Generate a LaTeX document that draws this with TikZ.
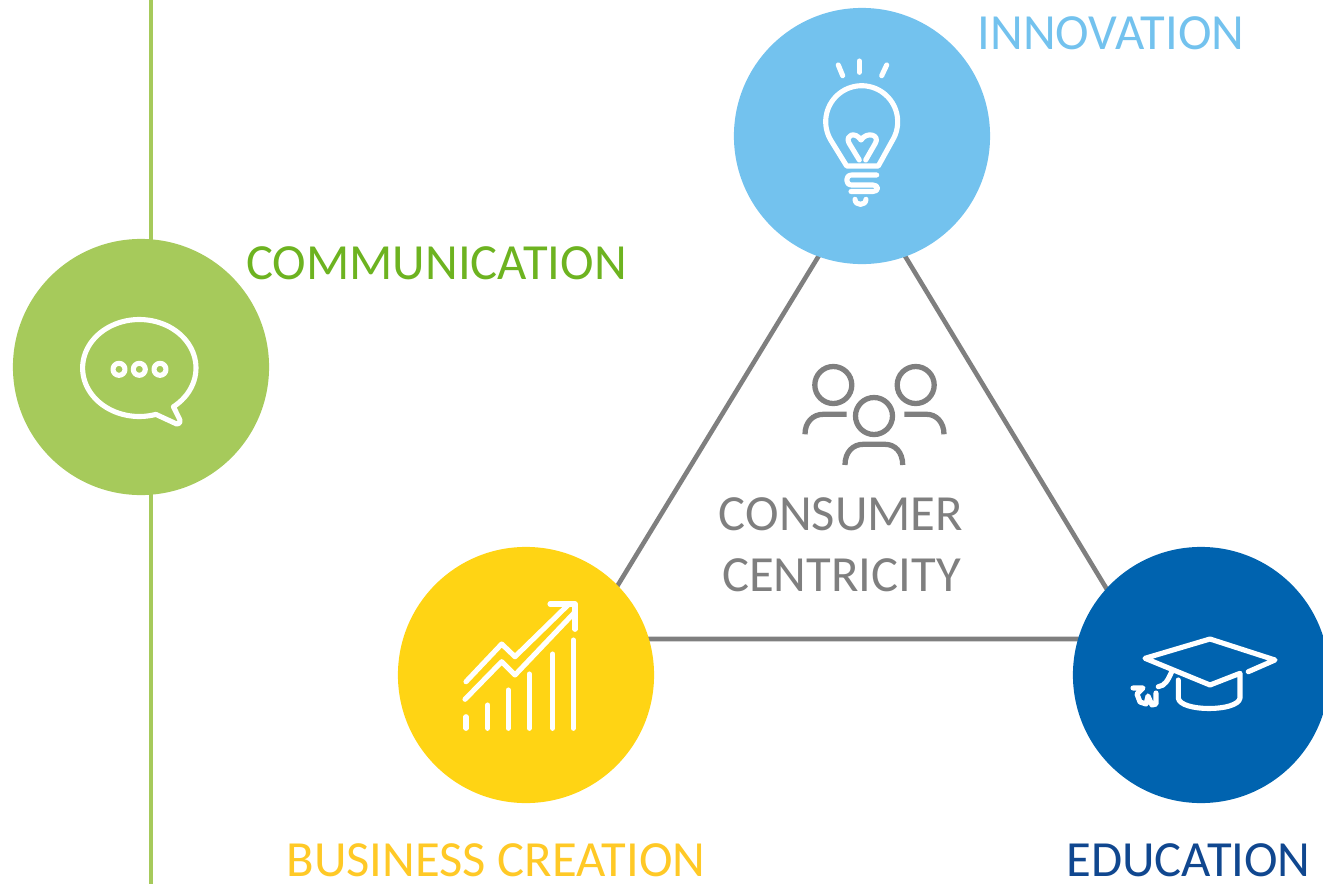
\documentclass[tikz,border=0pt]{standalone}
\usepackage{fontspec}
\setmainfont{Carlito}
\definecolor{greenhub}{HTML}{A6CA5B}
\definecolor{bluehub}{HTML}{73C2EE}
\definecolor{yellowhub}{HTML}{FFD414}
\definecolor{navyhub}{HTML}{0063AF}
\definecolor{greentext}{HTML}{6DB320}
\definecolor{yellowtext}{HTML}{FFC926}
\definecolor{navytext}{HTML}{10478F}
\definecolor{greyline}{HTML}{7F7F7F}
\tikzset{
  hub/.style={circle,minimum size=2.56cm,inner sep=0pt,fill=#1},
  caption/.style={inner sep=0pt,font=\fontsize{14.4pt}{16pt}\selectfont,text=#1},
  icon/.style={draw=white,line width=1.45pt,line cap=round,line join=round},
  person/.style={draw=greyline,line width=1.5pt,line join=round}
}
\begin{document}
\begin{tikzpicture}[x=0.01cm,y=-0.01cm]
  \useasboundingbox (0,0) rectangle (1323,884);
  \draw[greenhub,line width=1.2pt] (151,0)--(151,884);
  %triangle
  \coordinate (apex) at (862,185);
  \coordinate (left) at (585,639);
  \coordinate (right) at (1137,639);
  \draw[greyline,line width=1.3pt] (apex)--(left)--(right)--cycle;
  %circles
  \node[hub=bluehub] (innovation) at (862,136) {};
  \node[hub=greenhub] (communication) at (141,367) {};
  \node[hub=yellowhub] (business) at (526,675) {};
  \node[hub=navyhub] (education) at (1201,675) {};
  %labels
  \node[caption=bluehub] (innovationtext) at (1111,33) {INNOVATION};
  \node[caption=greentext] (communicationtext) at (436.5,263) {COMMUNICATION};
  \node[caption=yellowtext] (businesstext) at (496,860) {BUSINESS CREATION};
  \node[caption=navytext] (educationtext) at (1188.5,860) {EDUCATION};
  \node[caption=greyline] (consumertext) at (841,514) {CONSUMER};
  \node[caption=greyline] (centricitytext) at (841.5,575) {CENTRICITY};
  %bulb
  \draw[icon] (838.3,65)--(842.7,75.7);
  \draw[icon] (859.3,61)--(859.3,72.3);
  \draw[icon] (886.7,65)--(881.7,75.7);
  \draw[icon] (846.7,166)
    -- plot[domain=148.4:391.6,samples=50,smooth] ({861.7+36*cos(\x)},{121.7+36*sin(\x)})
    -- (878.3,166) -- cycle;
  \draw[icon] (859.3,160) -- (849,143) .. controls (845,135) and (855,131) .. (861,140)
    .. controls (867,131) and (880,135) .. (875.5,143) -- (865.7,160);
  \draw[icon] (876.7,175) -- (851.7,175) .. controls (845,175) and (845,185) .. (851.7,185)
    -- (873,185) .. controls (879,185) and (879,191.5) .. (873,191.5) -- (851,191.5);
  \draw[icon] (855,199.3) .. controls (855,206) and (866,206) .. (866,199.3);
  %speech bubble
  \draw[icon] plot[domain=53:-287,samples=90,smooth] ({139.3+56.7*cos(\x)},{368+48.5*sin(\x)})
    -- (176.7,424) .. controls (180,424) and (181,421) .. (179,418) -- cycle;
  \foreach \px in {119,139.3,160}
    \draw[icon] (\px,369.3) circle (6);
  %chart
  \foreach \px/\ptop in {466/716.7,487.7/705,508.3/690,529.3/674,552.7/654,573.3/640}
    \draw[icon] (\px,728.3)--(\px,\ptop);
  \draw[icon] (466,681.7)--(501.7,644)--(515,656.7)--(568,605);
  \draw[icon] (465,699.3)--(501.7,661.7)--(515,675)--(575,612);
  \draw[icon] (550,604)--(575,604)--(575,629.3);
  %cap
  \draw[icon] (1248.3,671.7)--(1275,660)--(1210,639)--(1145,658.3)--(1210,685)--(1240,673.3)
    --(1240,698) .. controls (1238,712) and (1180,712) .. (1178.3,698) -- (1178.3,680);
  \draw[icon] (1171.7,671.7) .. controls (1168,680) and (1165,686) .. (1158.3,686.7);
  \draw[icon] (1133,688)--(1143,688)--(1137,694)--(1140,702)--(1146,704)--(1148,696)
    --(1152,705)--(1156,704)--(1156,693);
  %people
  \draw[person] (833.3,385) circle (18.5);
  \draw[person] (915.7,385) circle (18.5);
  \draw[person] (874,416) circle (18.5);
  \draw[person] (805,434.3) .. controls (805,422) and (813,414.3) .. (823.3,414.3) -- (846.7,414.3);
  \draw[person] (904.3,414.3) -- (926.7,414.3) .. controls (936,414.3) and (944,422) .. (944,434.3);
  \draw[person] (845,465) .. controls (845,452) and (853,444.3) .. (863.3,444.3) -- (885,444.3)
    .. controls (895,444.3) and (902.7,452) .. (902.7,465);
\end{tikzpicture}
\end{document}
